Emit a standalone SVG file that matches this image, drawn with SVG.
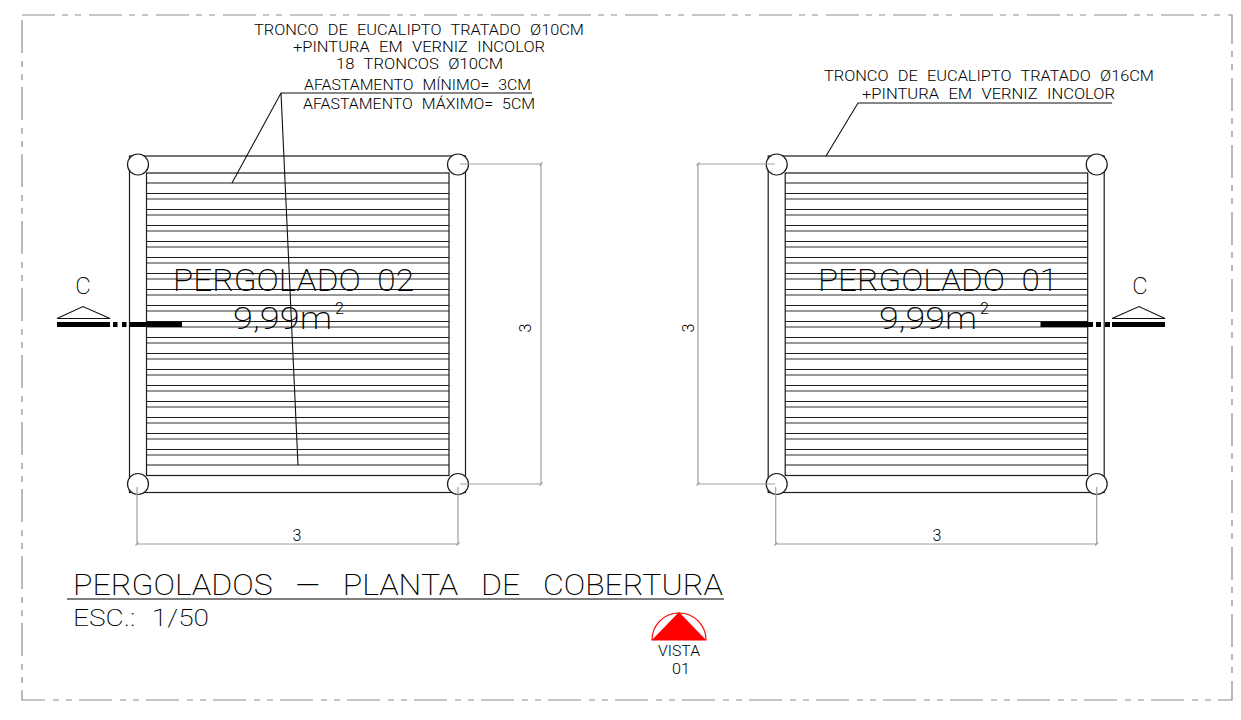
<svg xmlns="http://www.w3.org/2000/svg" width="1241" height="720" viewBox="0 0 1241 720">
<style>
text{font-family:Roboto,"Liberation Sans",sans-serif;font-weight:200;fill:#000}
.dk{fill:none;stroke:#1a1a1a;stroke-width:1.2}
.g1{fill:none;stroke:#777;stroke-width:1.3}
.dim{fill:none;stroke:#a0a0a0;stroke-width:1.2}
.post{fill:#fff;stroke:#1a1a1a;stroke-width:1.2}
.lead{fill:none;stroke:#111;stroke-width:1.1}
.s{font-size:15.5px;font-weight:300;word-spacing:5px}
.n{font-weight:300}
.sec{fill:#000}
</style>
<defs>
<g id="pergola">
<path class="g1" d="M146.5 199h302.5M146.5 215h302.5M146.5 231h302.5M146.5 247h302.5M146.5 263h302.5M146.5 279h302.5M146.5 295h302.5M146.5 311h302.5M146.5 327h302.5M146.5 343h302.5M146.5 359h302.5M146.5 375h302.5M146.5 391h302.5M146.5 407h302.5M146.5 423h302.5M146.5 439h302.5M146.5 455h302.5"/>
<path class="dk" d="M146.5 183h302.5M146.5 193.5h302.5M146.5 209.5h302.5M146.5 225.5h302.5M146.5 241.5h302.5M146.5 257.5h302.5M146.5 273.5h302.5M146.5 289.5h302.5M146.5 305.5h302.5M146.5 321.5h302.5M146.5 337.5h302.5M146.5 353.5h302.5M146.5 369.5h302.5M146.5 385.5h302.5M146.5 401.5h302.5M146.5 417.5h302.5M146.5 433.5h302.5M146.5 449.5h302.5M146.5 465h302.5"/>
<rect class="dk" x="129.5" y="156" width="336" height="336.5"/>
<rect class="dk" x="146.5" y="173" width="302.5" height="302.5"/>
<circle class="post" cx="138" cy="164.5" r="10.5"/>
<circle class="post" cx="458" cy="164.5" r="10.5"/>
<circle class="post" cx="138" cy="484" r="10.5"/>
<circle class="post" cx="458" cy="484" r="10.5"/>
<path class="dim" d="M137 487V544M458 487V544M137 544H458M135.500 545.500l3-3M456.500 545.500l3-3"/>
</g>
</defs>
<rect id="border" x="22" y="15" width="1210" height="685" fill="none" stroke="#8c8c8c" stroke-width="1.2" stroke-dasharray="33 7 6 7 6 8"/>
<g id="pergolado-02">
<use href="#pergola"/>
<path class="dim" d="M460 164H541M460 484H541M541 164V484M539.500 485.500l3-3M539.500 165.500l3-3"/>
<text x="173" y="291" font-size="31" textLength="241" lengthAdjust="spacingAndGlyphs" word-spacing="8">PERGOLADO 02</text>
<text x="233" y="329" font-size="31" textLength="99" lengthAdjust="spacingAndGlyphs">9,99m</text>
<text x="335" y="314" font-size="16" class="n">2</text>
<text x="297" y="541" font-size="16" text-anchor="middle" class="n">3</text>
<text transform="translate(531 328) rotate(-90)" font-size="16" text-anchor="middle" class="n">3</text>
</g>
<g id="pergolado-01">
<use href="#pergola" transform="translate(638.700 0)"/>
<path class="dim" d="M698 164H775M698 484H775M698 164V484M696.500 485.500l3-3M696.500 165.500l3-3"/>
<text x="818" y="291" font-size="31" textLength="240" lengthAdjust="spacingAndGlyphs" word-spacing="8">PERGOLADO 01</text>
<text x="879" y="329" font-size="31" textLength="98" lengthAdjust="spacingAndGlyphs">9,99m</text>
<text x="980" y="314" font-size="16" class="n">2</text>
<text x="937" y="541" font-size="16" text-anchor="middle" class="n">3</text>
<text transform="translate(694 328) rotate(-90)" font-size="16" text-anchor="middle" class="n">3</text>
</g>
<g id="connectors">
<path class="lead" d="M232 183L281 93H532M281 93L298 465"/>
<path class="lead" d="M826 156L858 103H1112"/>
</g>
<g id="note-02">
<text class="s" x="254" y="35" textLength="330" lengthAdjust="spacingAndGlyphs">TRONCO DE EUCALIPTO TRATADO Ø10CM</text>
<text class="s" x="293" y="52" textLength="252" lengthAdjust="spacingAndGlyphs">+PINTURA EM VERNIZ INCOLOR</text>
<text class="s" x="336" y="69" textLength="167" lengthAdjust="spacingAndGlyphs">18 TRONCOS Ø10CM</text>
<text class="s" x="304" y="90" textLength="227" lengthAdjust="spacingAndGlyphs">AFASTAMENTO MÍNIMO= 3CM</text>
<text class="s" x="303" y="109" textLength="232" lengthAdjust="spacingAndGlyphs">AFASTAMENTO MÁXIMO= 5CM</text>
</g>
<g id="note-01">
<text class="s" x="824" y="81" textLength="330" lengthAdjust="spacingAndGlyphs">TRONCO DE EUCALIPTO TRATADO Ø16CM</text>
<text class="s" x="862" y="99" textLength="253" lengthAdjust="spacingAndGlyphs">+PINTURA EM VERNIZ INCOLOR</text>
</g>
<g id="section-left">
<rect class="sec" x="57" y="322" width="53" height="5"/>
<rect class="sec" x="113" y="322" width="4.500" height="5"/>
<rect class="sec" x="122" y="322" width="4.500" height="5"/>
<rect class="sec" x="129.500" y="322" width="52.500" height="5"/>
<path class="lead" d="M57 318.500L83 306.500L110 318.500Z"/>
<text x="83" y="294" font-size="24" text-anchor="middle">C</text>
</g>
<g id="section-right">
<rect class="sec" x="1040.500" y="322" width="52.500" height="5"/>
<rect class="sec" x="1096" y="322" width="5" height="5"/>
<rect class="sec" x="1105" y="322" width="5" height="5"/>
<rect class="sec" x="1112" y="322" width="53" height="5"/>
<path class="lead" d="M1112 318.500L1139 306.500L1165 318.500Z"/>
<text x="1140" y="294" font-size="24" text-anchor="middle">C</text>
</g>
<g id="title">
<text x="73" y="595" font-size="30" textLength="650" lengthAdjust="spacingAndGlyphs" word-spacing="14">PERGOLADOS — PLANTA DE COBERTURA</text>
<path d="M67 599H724" stroke="#555" stroke-width="1.500" fill="none"/>
<text x="73" y="626" font-size="23" textLength="136" lengthAdjust="spacingAndGlyphs" word-spacing="8">ESC.: 1/50</text>
</g>
<g id="vista">
<path d="M652 640A27 27 0 0 1 706 640Z" fill="#fff" stroke="#f00" stroke-width="1.200"/>
<path d="M652 640L679 612L706 640Z" fill="#f00"/>
<text x="658" y="656" font-size="15" class="n" textLength="42" lengthAdjust="spacingAndGlyphs">VISTA</text>
<text x="672" y="674" font-size="15" class="n" textLength="18" lengthAdjust="spacingAndGlyphs">01</text>
</g>
</svg>
